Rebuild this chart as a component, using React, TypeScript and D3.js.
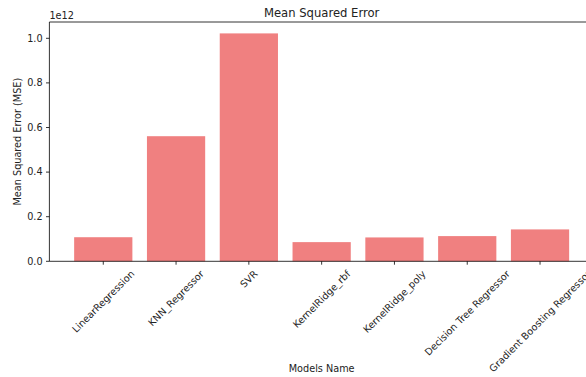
import React, { useEffect, useRef } from "react";
import * as d3 from "d3";

const models = [
  "LinearRegression",
  "KNN_Regressor",
  "SVR",
  "KernelRidge_rbf",
  "KernelRidge_poly",
  "Decision Tree Regressor",
  "Gradient Boosting Regressor",
];
const mseValues = [0.108e12, 0.561e12, 1.022e12, 0.086e12, 0.107e12, 0.113e12, 0.143e12];
const yTicks = [0, 0.2e12, 0.4e12, 0.6e12, 0.8e12, 1.0e12];

const W = 586;
const H = 377;
const FONT = "'DejaVu Sans', sans-serif";
const BAR_COLOR = "#F08080";

export default function App() {
  const svgRef = useRef<SVGSVGElement>(null);

  useEffect(() => {
    if (!svgRef.current) return;
    const svg = d3.select(svgRef.current);
    svg.selectAll("*").remove();

    const left = 49.4, right = 593.9, top = 22, bottom = 261.3;
    const n = models.length;
    const pad = 0.05 * (n - 1 + 0.8);
    const x = d3.scaleLinear().domain([-0.4 - pad, n - 1 + 0.4 + pad]).range([left, right]);
    const yMax = (d3.max(mseValues) as number) * 1.05;
    const y = d3.scaleLinear().domain([0, yMax]).range([bottom, top]);

    const g = svg.append("g").attr("font-family", FONT);

    // bars
    g.selectAll("rect.bar")
      .data(mseValues)
      .enter().append("rect")
      .attr("class", "bar")
      .attr("x", (_, i) => x(i - 0.4))
      .attr("width", x(0.8) - x(0))
      .attr("y", d => y(d))
      .attr("height", d => bottom - y(d))
      .attr("fill", BAR_COLOR);

    // spines (right one is outside the picture anyway)
    const spine = { stroke: "#000", "stroke-width": 0.8 };
    g.append("line").attr("x1", left).attr("x2", right).attr("y1", top).attr("y2", top)
      .attr("stroke", spine.stroke).attr("stroke-width", spine["stroke-width"]);
    g.append("line").attr("x1", left).attr("x2", right).attr("y1", bottom).attr("y2", bottom)
      .attr("stroke", spine.stroke).attr("stroke-width", spine["stroke-width"]);
    g.append("line").attr("x1", left).attr("x2", left).attr("y1", top).attr("y2", bottom)
      .attr("stroke", spine.stroke).attr("stroke-width", spine["stroke-width"]);

    // y axis ticks
    const tickLen = 3.4;
    const yt = g.append("g");
    yTicks.forEach(t => {
      yt.append("line").attr("x1", left - tickLen).attr("x2", left)
        .attr("y1", y(t)).attr("y2", y(t)).attr("stroke", "#000").attr("stroke-width", 0.8);
      yt.append("text").attr("x", left - tickLen - 3.4).attr("y", y(t)).attr("dy", "0.35em")
        .attr("text-anchor", "end").attr("font-size", 9.7).attr("fill", "#222")
        .text(d3.format(".1f")(t / 1e12));
    });
    g.append("text").attr("x", left).attr("y", 18.5).attr("font-size", 9.7).attr("fill", "#222")
      .text("1e12");

    // x axis ticks with rotated labels (matplotlib style: rotated box centred on tick)
    const fs = 9.7;
    models.forEach((m, i) => {
      const cx = x(i);
      g.append("line").attr("x1", cx).attr("x2", cx).attr("y1", bottom).attr("y2", bottom + tickLen)
        .attr("stroke", "#000").attr("stroke-width", 0.8);
      const t = g.append("text").attr("font-size", fs).attr("fill", "#222")
        .attr("text-anchor", "middle").attr("dy", "0.35em").text(m);
      const w = (t.node() as SVGTextElement).getComputedTextLength();
      const h = fs * 1.164;
      const boxW = (w + h) * Math.SQRT1_2;
      const cy = bottom + tickLen + 3.4 + boxW / 2;
      t.attr("transform", `translate(${cx},${cy}) rotate(-45)`);
    });

    // title and axis labels
    g.append("text").attr("x", (left + right) / 2).attr("y", 17.2).attr("text-anchor", "middle")
      .attr("font-size", 11.6).attr("fill", "#222").text("Mean Squared Error");
    g.append("text").attr("x", (left + right) / 2).attr("y", 372).attr("text-anchor", "middle")
      .attr("font-size", 9.7).attr("fill", "#222").text("Models Name");
    g.append("text").attr("transform", `translate(20.5,${(top + bottom) / 2}) rotate(-90)`)
      .attr("text-anchor", "middle").attr("font-size", 9.7).attr("fill", "#222")
      .text("Mean Squared Error (MSE)");
  }, []);

  return (
    <svg
      ref={svgRef}
      width={W}
      height={H}
      style={{ position: "fixed", left: 0, top: 0, background: "#fff" }}
    />
  );
}
